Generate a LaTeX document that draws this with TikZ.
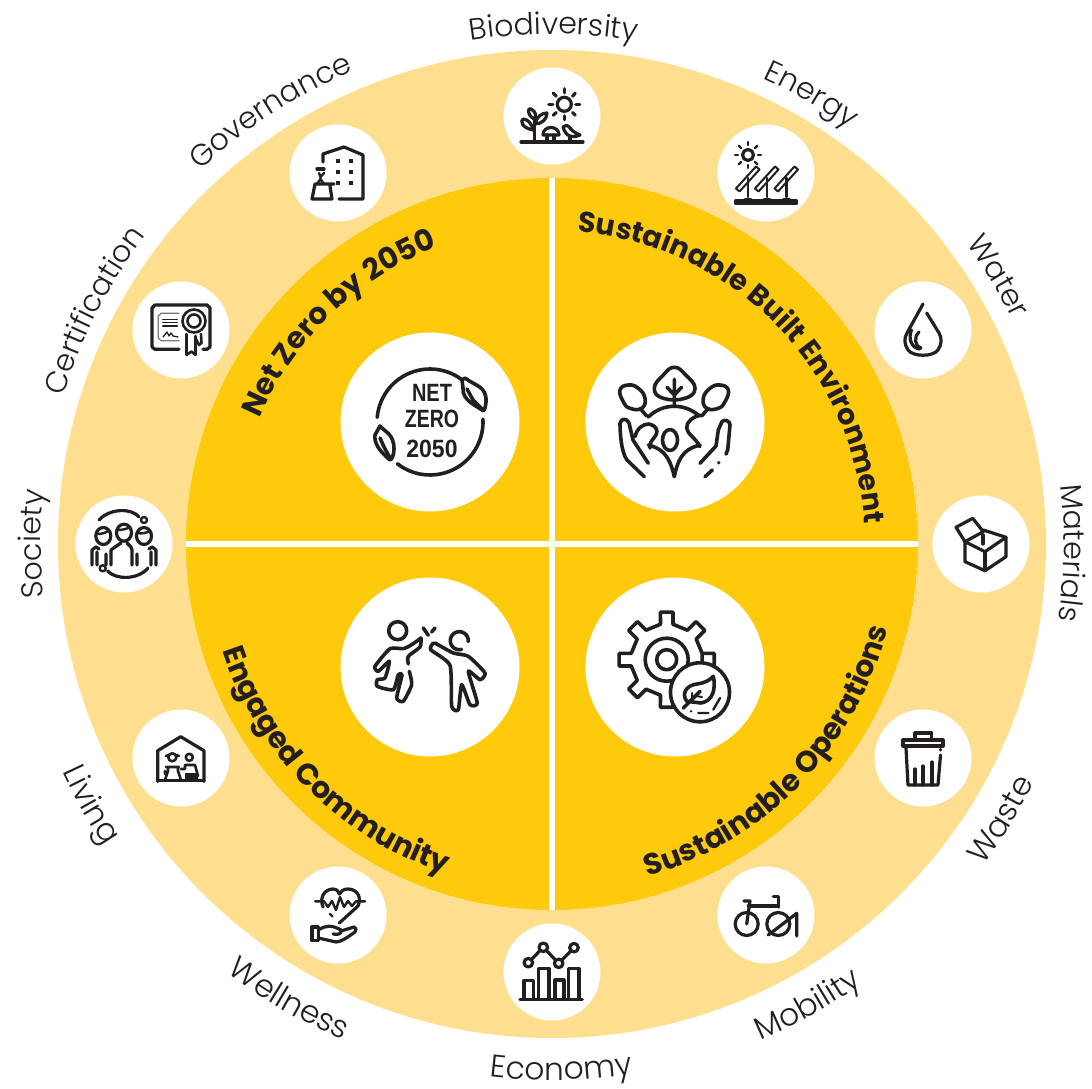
\documentclass[tikz,border=0pt]{standalone}
\usepackage{fontspec}
\setmainfont{Poppins}
\newfontfamily\lblf{Poppins}[UprightFont=* Light]
\newfontfamily\hdf{Poppins}[UprightFont=* Bold]
\newfontfamily\nzf{Liberation Sans}
\usetikzlibrary{decorations.text}
\definecolor{lightband}{HTML}{FDDF8F}
\definecolor{goldq}{HTML}{FFCA0B}
\definecolor{inkc}{HTML}{231F20}
\newcommand\lblfmt{\lblf\fontsize{30}{32}\selectfont\color{inkc}}
\newcommand\lblfmtb{\lblf\fontsize{31.3}{32}\selectfont\color{inkc}}
\newcommand\hdfmt{\hdf\fontsize{29.8}{32}\selectfont\color{inkc}}
\newcommand\hdfmtb{\hdf\fontsize{28.7}{32}\selectfont\color{inkc}}
\newcommand\nzfmt{\nzf\bfseries\fontsize{25}{26}\selectfont}
\newcommand\arccw[5]{% from-top angle, half span, radius, format, text
  \pgfmathsetmacro\aS{90-#1+#2}\pgfmathsetmacro\aE{90-#1-#2}
  \path[decorate,decoration={text along path,text align=center,text={|#4|#5}}]
    ([shift={(\aS:#3pt)}]c) arc[start angle=\aS,end angle=\aE,radius=#3pt];}
\newcommand\arcccw[5]{%
  \pgfmathsetmacro\aS{90-#1-#2}\pgfmathsetmacro\aE{90-#1+#2}
  \path[decorate,decoration={text along path,text align=center,text={|#4|#5}}]
    ([shift={(\aS:#3pt)}]c) arc[start angle=\aS,end angle=\aE,radius=#3pt];}
\newcommand\place[5]{% name, x, y(image), node style, drawing
  \node[#4] (#1) at (#2,{1088-#3}) {};
  \begin{scope}[shift={(#2,{1088-#3})},y=-1pt] #5 \end{scope}}
\newcommand\arcp[5]{plot[variable=\t,domain=#4:#5,samples=28] ({#1+#3*cos(\t)},{#2+#3*sin(\t)})}
\tikzset{
 smallc/.style={circle,fill=white,inner sep=0pt,minimum size=97pt},
 bigc/.style={circle,fill=white,inner sep=0pt,minimum size=179pt},
 ic/.style={draw=inkc,line width=3.2pt,line cap=round,line join=round},
 icb/.style={draw=inkc,line width=3.6pt,line cap=round,line join=round},
 thinline/.style={draw=inkc,line width=1.3pt,line cap=round,line join=round}
}
\begin{document}
\begin{tikzpicture}[x=1pt,y=1pt]
\useasboundingbox (0,0) rectangle (1092,1088);
\fill[white] (0,0) rectangle (1092,1088);
\coordinate (c) at (552,544);
\fill[lightband] (c) circle[radius=494pt];
\begin{scope}
 \clip (c) circle[radius=366pt];
 \fill[goldq] (c) circle[radius=366pt];
 \fill[white] (549,170) rectangle (555,920);
 \fill[white] (180,541) rectangle (925,547);
\end{scope}

% outer labels
\arccw{0.2}{40}{510}{\lblfmt}{Biodiversity}
\arccw{30}{25}{511}{\lblfmt}{Energy}
\arccw{59}{20}{512}{\lblfmt}{Water}
\arccw{91}{25}{512}{\lblfmt}{Materials}
\arcccw{121.5}{20}{538}{\lblfmtb}{Waste}
\arcccw{151}{25}{538}{\lblfmtb}{Mobility}
\arcccw{179}{25}{536}{\lblfmtb}{Economy}
\arcccw{210}{25}{538}{\lblfmtb}{Wellness}
\arcccw{240.5}{20}{540}{\lblfmtb}{Living}
\arccw{270}{25}{511}{\lblfmt}{Society}
\arccw{297}{30}{510}{\lblfmt}{Certification}
\arccw{327}{30}{513}{\lblfmt}{Governance}
% quadrant titles
\arccw{45.5}{60}{313}{\hdfmtb}{Sustainable Built Environment}
\arccw{316}{45}{318}{\hdfmt}{Net Zero by 2050}
\arcccw{225}{45}{346}{\hdfmt}{Engaged Community}
\arcccw{134}{50}{346}{\hdfmt}{Sustainable Operations}

% --- small icons ---
\place{biodiv}{552}{116}{smallc}{
 \draw[ic] (12.3,-11.7) circle[radius=7];
 \foreach \a in {0,45,...,315}{\draw[ic] ({12.3+11.5*cos(\a)},{-11.7+11.5*sin(\a)}) -- ({12.3+15.5*cos(\a)},{-11.7+15.5*sin(\a)});}
 \draw[ic] (-31,26) -- (31,26);
 \draw[ic] (-17.7,26) -- (-17.7,3);
 \draw[ic] (-18,3) .. controls (-26,-2) and (-24,-9) .. (-21,-7) .. controls (-16,-4) and (-15,0) .. cycle;
 \draw[ic] (-19,14) .. controls (-30,12) and (-32,5) .. (-29,3) .. controls (-24,3) and (-20,8) .. cycle;
 \draw[ic] (-17,8) .. controls (-15,0) and (-10,-3) .. (-5,-3) .. controls (-5,3) and (-10,8) .. cycle;
 \draw[ic] (-9,19) .. controls (-9,9) and (7,9) .. (7,19) -- cycle;
 \draw[ic] (-5,19) -- (-5,25) (2,19) -- (2,25);
 \draw[ic] (11,11) .. controls (14,9) and (16,9) .. (18,12) .. controls (22,17) and (26,18) .. (28,19) .. controls (22,22) and (14,22) .. (11,11);
 \draw[ic] (18,22) -- (18,26);
}
\place{energy}{766}{173}{smallc}{
 \draw[ic] (-18,-18) circle[radius=5.5];
 \foreach \a in {0,45,...,315}{\draw[ic,line width=2.4pt] ({-18+10*cos(\a)},{-18+10*sin(\a)}) -- ({-18+13*cos(\a)},{-18+13*sin(\a)});}
 \foreach \dx in {0,19,38.5}{
  \draw[ic,line width=2pt] ({-30+\dx},15.5) -- ({-10+\dx},-6.5) -- ({-6.5+\dx},-3.5) -- ({-26.5+\dx},18.5) -- cycle;
  \draw[ic,line width=2.6pt] ({-18+\dx},5) -- ({-18+\dx},24);
  \draw[ic,line width=2.6pt] ({-21+\dx},26) -- ({-15+\dx},26);
 }
 \draw[ic] (-30,27.5) -- (30,27.5) -- (30,30.5) -- (-30,30.5) -- cycle;
}
\place{water}{923}{330}{smallc}{
 \draw[ic] (3.7,-17) -- (16,3) .. controls (19,8) and (19,14) .. (15,20) .. controls (10,27) and (-10,27) .. (-15,20) .. controls (-19,14) and (-19,8) .. (-16,3) -- (0,-26);
 \draw[ic] (-11.5,0) .. controls (-15,8) and (-12,18) .. (-3,19);
 \draw[ic] (-4,2) .. controls (-9,6) and (-9,16) .. (-2,18);
}
\place{materials}{981}{544}{smallc}{
 \draw[ic] (-16,-2.3) -- (4,7.7) -- (25,-6.7) -- (25,12.7) -- (4,26.7) -- (-16,17.7) -- cycle;
 \draw[ic] (4,7.7) -- (4,26.7);
 \draw[ic] (25,-6.7) -- (2.3,-14);
 \draw[ic] (-25,-16.7) -- (-8.3,-25.7) -- (2.3,-12.3) -- (-16,-2.3) -- cycle;
 \draw[ic] (2,-9) -- (2,0);
}
\place{waste}{923}{758}{smallc}{
 \draw[ic] (-20,-12) -- (-20,-18) -- (20,-18) -- (20,-12) -- cycle;
 \draw[ic] (-8,-19) -- (-8,-25) -- (8.7,-25) -- (8.7,-19);
 \draw[ic] (-17,-10) -- (-15,27) -- (15,27) -- (17.5,-3);
 \draw[ic] (17.5,-8.5) -- (17.5,-8);
 \draw[ic] (-8,27) -- (-8,11) (0,27) -- (0,8) (9,27) -- (9,4);
}
\place{mobility}{766}{915}{smallc}{
 \draw[ic] (-19.3,9) circle[radius=11.5];
 \draw[ic] (12.3,9) circle[radius=11.5];
 \draw[ic] (-17.7,-9) -- (12.3,-9);
 \draw[ic] (-22,-14) -- (-16,-14) -- (-19.3,9);
 \draw[ic] (7.3,-18.3) -- (12.5,-18.3) -- (12.5,-8);
 \draw[ic] (2.3,20) -- (30.7,-1.7) -- (30.7,21);
}
\place{economy}{552}{972}{smallc}{
 \draw[ic] (-32,27.3) -- (30.3,27.3);
 \draw[ic] (-28,26) -- (-28,8.7) -- (-18.7,8.7) -- (-18.7,26);
 \draw[ic] (-13.7,26) -- (-13.7,-3.7) -- (-3,-3.7) -- (-3,26);
 \draw[ic] (3,26) -- (3,8) -- (12,8) -- (12,26);
 \draw[ic] (16.3,26) -- (16.3,-3.7) -- (27,-3.7) -- (27,26);
 \draw[ic] (-23.7,-9.3) circle[radius=4.3] (-8.7,-24.7) circle[radius=4.3] (6.7,-8.7) circle[radius=4.3] (22,-24.3) circle[radius=4.3];
 \draw[ic] (-20.7,-12.3) -- (-11.7,-21.7) (-5.7,-21.7) -- (3.7,-11.7) (9.7,-11.7) -- (19,-21.3);
}
\place{wellness}{338}{915}{smallc}{
 \draw[ic] (-15,-8) .. controls (-19,-18) and (-13,-26) .. (-5,-26) .. controls (-1,-26) and (1,-23) .. (1.3,-21) .. controls (3,-24) and (6,-26) .. (10,-26) .. controls (19,-26) and (24,-18) .. (20,-9) -- (1.3,8);
 \draw[ic,line width=2.4pt] (-23,-13.7) -- (-14,-13.7) -- (-10,-8) -- (-6,-14) -- (-2,-5) -- (2,-18) -- (6,-8) -- (10,-14) -- (14,-9) -- (18,-13.7) -- (27,-13.7);
 \draw[ic,line width=2.4pt] (-8,-1) -- (-5.5,1.5);
 \draw[ic] (-26,12) -- (-19.7,12) -- (-19.7,25.7) -- (-26,25.7) -- cycle;
 \draw[ic] (-19.7,15) .. controls (-12,10) and (-6,10) .. (3,15) .. controls (4,19) and (0,20) .. (-5,19);
 \draw[ic] (3,16) -- (16,12) .. controls (18,12) and (19,15) .. (17,17) .. controls (10,22) and (3,27) .. (-2,27) -- (-19.7,23);
}
\place{living}{181}{758}{smallc}{
 \draw[ic] (-23.3,23.5) -- (-23.3,-7.3) -- (-0.3,-21.3) -- (23,-7.3) -- (23,23.5);
 \draw[ic] (-23.3,22.5) -- (23,22.5);
 \draw[ic,line width=2.6pt] (-8.7,-0.7) circle[radius=4] (8.3,-0.7) circle[radius=3.5];
 \draw[ic,line width=2.6pt] (-15,-2) -- (-12,-3) (-5,-3) -- (-2,-2);
 \draw[ic,line width=2.6pt] (-15,9) -- (-2,9) (-13,9) -- (-13,13) -- (-16,22) (-3,9) -- (-3,13) -- (0,22) (-16,13) -- (-16,16);
 \draw[ic,line width=2.6pt] (0,11) -- (4,11) -- (4,7) -- (14,7) -- (17,18);
 \fill[inkc] (4,15) rectangle (17.3,23);
}
\place{society}{124}{544}{smallc}{
 \draw[ic] (-25,-24) .. controls (-14,-36) and (8,-36) .. (15,-27);
 \draw[ic,line width=2.4pt] (20,-24) circle[radius=3];
 \draw[ic] (24,24) .. controls (14,36) and (-8,36) .. (-16.5,27);
 \draw[ic,line width=2.4pt] (-21.3,24.3) circle[radius=3];
 \draw[ic] (-20.7,-8) ellipse[x radius=7.5,y radius=8.5] (0,-11.3) ellipse[x radius=7.5,y radius=8.5] (20,-8) ellipse[x radius=7.5,y radius=8.5];
 \draw[ic,line width=2.4pt] (-27,-10) .. controls (-22,-10) and (-18,-11) .. (-15,-14) (-6,-14) .. controls (-2,-14) and (3,-15) .. (6,-17) (14,-11) .. controls (18,-10) and (22,-11) .. (26,-13);
 \draw[ic] (-32,21) -- (-32,6) -- (-28,3) -- (-25,5) (-27,21) -- (-27,8);
 \draw[ic] (-13,21) -- (-13,6) -- (-9,3) -- (-3,-1) (-18,21) -- (-18,10);
 \draw[ic] (8,21) -- (8,6) -- (7,3) -- (3,-1) (13,21) -- (13,10);
 \draw[ic] (32,21) -- (32,6) -- (28,3) -- (25,5) (27,21) -- (27,8);
}
\place{certif}{181}{330}{smallc}{
 \draw[ic] (-2,19.3) -- (-26,19.3) -- (-29,17) -- (-29,-22) -- (-26,-25) -- (26,-25) -- (29,-22) -- (29,17) -- (26,19.3) -- (22,19.3);
 \draw[thinline,draw=inkc!60] (-2,-16.7) -- (-20,-16.7) -- (-22.7,-14) -- (-22.7,8) -- (-20,10.7) -- (-2,10.7);
 \draw[thinline] (-18.3,-10.7) -- (-3.7,-10.7) (-18.3,-7.3) -- (-3.7,-7.3) (-18.3,-4) -- (-3.7,-4);
 \draw[thinline] (-18,7) -- (-14,2) -- (-12,6) -- (-10,3) -- (-8,6) -- (-3,7);
 \draw[ic,line width=2.6pt] (13,-9) circle[radius=11.5];
 \draw[ic,line width=2.6pt] (13,-9) circle[radius=6.5];
 \draw[ic,line width=2.6pt] (5.5,4) -- (5.5,25) -- (10.5,21.5) -- (14.5,25) -- (14.5,6);
 \draw[ic,line width=2.6pt] (14.5,8) -- (18,15) -- (20.5,13) -- (20,4);
}
\place{governance}{338}{173}{smallc}{
 \draw[ic] (-15,-11) -- (-15,-19) -- (6,-26) -- (25,-18) -- (25,26) -- (1,26);
 \foreach \wx in {0,13}{\foreach \wy in {-12,-1,10}{\fill[inkc] ({\wx-2},{\wy-2}) rectangle ({\wx+2},{\wy+2});}}
 \draw[ic] (-21,-4) -- (-14,-4);
 \draw[ic,line width=2.4pt] (-19,0) -- (-17.5,4) -- (-14,0) (-17.5,4) -- (-17.5,6) (-21,11) -- (-17.5,6) -- (-14,11);
 \draw[ic] (-4,11) -- (-23,11) -- (-26,26) -- (-6,26) -- (-8,13);
}

% --- large icons ---
\place{netzero}{430}{422}{bigc}{
 \draw[icb] \arcp{0}{0}{53}{-54}{-175};
 \draw[icb] \arcp{0}{0}{53}{128}{-3};
 \draw[icb] (32,-42) -- (35,-44) .. controls (45,-36) and (57,-36) .. (56,-20) .. controls (55,-12) and (54,-10) .. (52,-12) .. controls (45,-17) and (32,-22) .. (33,-34) -- cycle;
 \draw[icb] (37,-33) -- (43,-22) -- (52,-13);
 \draw[icb] (-50,4) .. controls (-45,10) and (-36,12) .. (-36,27) .. controls (-36,32) and (-38,38) .. (-40,38) .. controls (-52,28) and (-56,20) .. (-55,13) -- cycle;
 \draw[icb] (-50,16) -- (-46,25) -- (-40,36);
 \node[inner sep=0pt,text=inkc] (nzA) at (2,-29) {\nzfmt\scalebox{.8}[1]{NET}};
 \node[inner sep=0pt,text=inkc] (nzB) at (2,-3.5) {\nzfmt\scalebox{.78}[1]{ZERO}};
 \node[inner sep=0pt,text=inkc] (nzC) at (2,27) {\nzfmt\scalebox{.92}[1]{2050}};
}
\place{earth}{675}{422}{bigc}{
 \draw[icb] plot[smooth cycle,tension=.8] coordinates {(-11.7,-23.7) (-20.7,-33.7) (-11.7,-47) (-0.7,-54.7) (10.7,-47) (20,-33.7) (10,-23.7)};
 \draw[icb] (-0.7,-42.7) -- (-0.7,-17) (-8,-34.7) -- (-0.7,-27) -- (6.5,-34.7);
 \draw[icb] plot[smooth cycle,tension=.8] coordinates {(-55,-32) (-46.7,-37) (-36.7,-33.7) (-30,-23.7) (-33.3,-13.7) (-45,-13.7) (-51.7,-20.3)};
 \draw[icb] (-35,-13.7) -- (-28.3,-6);
 \draw[icb] plot[smooth cycle,tension=.8] coordinates {(53.3,-32) (45,-37) (35,-33.7) (28.3,-23.7) (31.7,-13.7) (43.3,-13.7) (50,-20.3)};
 \draw[icb] (33.3,-13.7) -- (26.7,-6);
 \draw[icb] \arcp{-0.7}{21}{36.7}{-135}{-47};
 \draw[icb] (-26.7,23) .. controls (-16,26) and (-6,30) .. (-0.7,54.7) .. controls (4,30) and (14,26) .. (25,23);
 \draw[icb] (-30.7,54.7) -- (-48,38) .. controls (-54,30) and (-55,10) .. (-55,1.3) .. controls (-54,-4) and (-48,-4) .. (-46,1) -- (-42,18) -- (-26.7,41.3);
 \draw[icb] (25,41.3) -- (41,24) -- (43.3,8) -- (47,-0.5) .. controls (50,-3) and (55,-1) .. (55,3) -- (52.7,28) -- (51,32);
 \fill[inkc] (43.7,40.7) circle[radius=1.9];
 \draw[icb] (30,54.7) -- (37.3,48);
 \draw[icb] (-40,14.7) .. controls (-38,6) and (-32,2) .. (-26,2) .. controls (-20,3) and (-16,8) .. (-19,13) .. controls (-22,18) and (-26,20) .. (-25,26);
 \draw[icb] (-5,18) ellipse[x radius=7.5,y radius=10.5];
 \draw[icb] (25,-7) .. controls (18,-5) and (11,0) .. (11.7,6) .. controls (12,12) and (20,15) .. (25,24.7);
}
\place{highfive}{430}{667}{bigc}{
 \draw[icb] (-32.3,-36.3) circle[radius=9];
 \draw[icb] plot[smooth,tension=.35] coordinates {(-9,-29) (-18.3,-22.3) (-26.7,-18.3) (-40,-18.3) (-55,-0.7) (-51.7,4.3) (-40.7,-5.7) (-45,11) (-52.7,12.7) (-52.7,19.3) (-36.7,22.7) (-31.7,7.7) (-28,8) (-33.3,31) (-26.7,34.3) (-18.3,17.7) (-20.7,4.3)};
 \draw[icb] plot[smooth,tension=.4] coordinates {(-21.7,-3) (-21.7,-10.7) (-10,-20) (-9,-29)};
 \draw[icb] (-6.7,-39) -- (-1.7,-31.7) (5,-39) -- (1.7,-35);
 \draw[icb] \arcp{29.3}{-26.3}{9}{5}{-285};
 \draw[icb] plot[smooth,tension=.35] coordinates {(3.3,-24) (0.7,-17.3) (20,-1.7) (21.7,39.3) (28.3,42.7) (31.7,17.7) (40,37.7) (47.3,36) (38.3,4.3) (50,12.7) (55,6) (38.3,-10.7) (23.3,-14) (5,-24)};
}
\place{gear}{675}{667}{bigc}{
 \draw[icb] (-8.3,-7.3) ++(-10:36pt) \foreach \a in {0,45,...,315}{
   -- ({-8.3+36*cos(\a-10)},{-7.3+36*sin(\a-10)})
   -- ({-8.3+48*cos(\a-7.5)},{-7.3+48*sin(\a-7.5)})
   -- ({-8.3+48*cos(\a+7.5)},{-7.3+48*sin(\a+7.5)})
   -- ({-8.3+36*cos(\a+10)},{-7.3+36*sin(\a+10)})
   -- ({-8.3+36*cos(\a+35)},{-7.3+36*sin(\a+35)})
 } -- cycle;
 \draw[icb] (-8.3,-7.3) circle[radius=21.5];
 \draw[icb] (-8.3,-7.3) circle[radius=10];
 \draw[icb,fill=white] (25,25.3) circle[radius=29.5];
 \draw[icb] (11.7,34.3) .. controls (6,26) and (12,18) .. (22,17) .. controls (30,16) and (35,13) .. (38.3,9.3) .. controls (41,22) and (38,34) .. (26,36) -- cycle;
 \draw[icb] (8.3,41) -- (25,24.3);
 \draw[icb,line width=2pt] (17,33) -- (17,26) (21,29) -- (27,30);
 \fill[inkc] (16,44.3) circle[radius=1.3];
 \draw[icb,line width=2.4pt] (23.3,46) -- (33.3,46) (38.3,42.7) -- (45,31);
}
\end{tikzpicture}
\end{document}
